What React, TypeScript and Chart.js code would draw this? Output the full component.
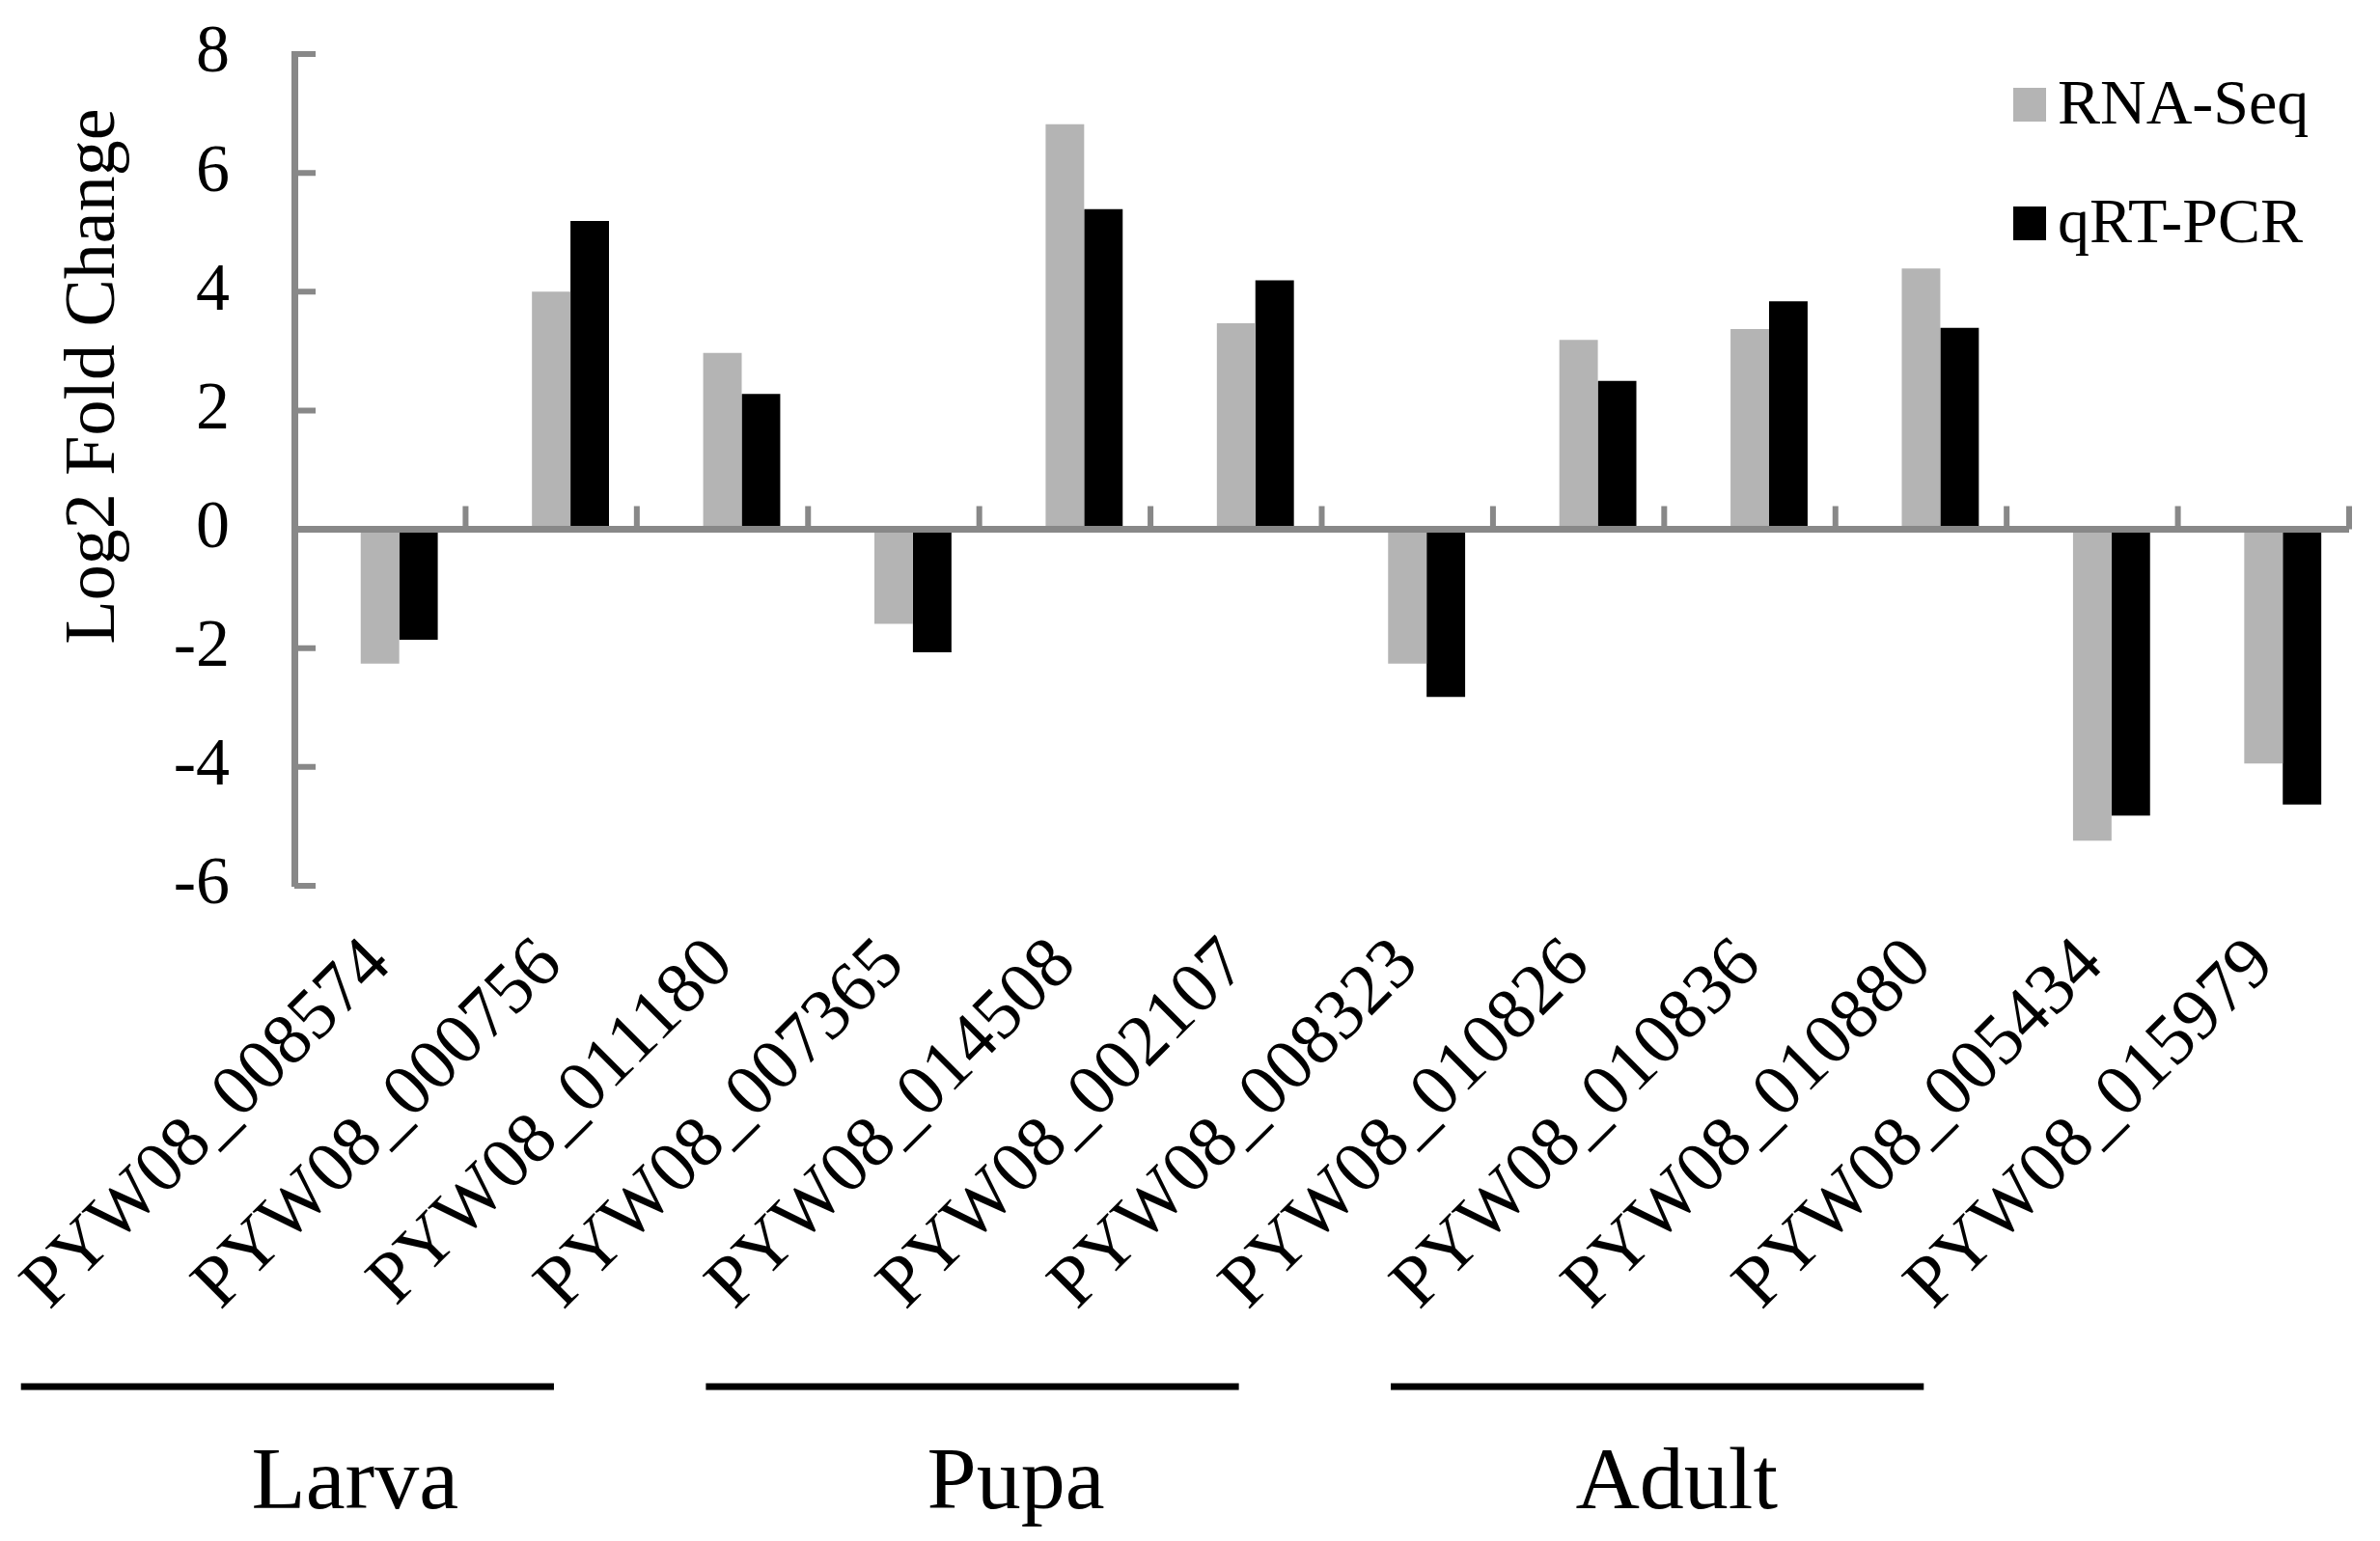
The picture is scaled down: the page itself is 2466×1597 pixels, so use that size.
import { useEffect, useRef } from 'react';
import { Chart, registerables, type Plugin } from 'chart.js';

Chart.register(...registerables);

// gene ids on the x axis
const genes = [
  'PYW08_008574', 'PYW08_000756', 'PYW08_011180', 'PYW08_007365',
  'PYW08_014508', 'PYW08_002107', 'PYW08_008323', 'PYW08_010826',
  'PYW08_010836', 'PYW08_010880', 'PYW08_005434', 'PYW08_015979',
];
const rnaSeq = [-2.26, 4.0, 2.97, -1.59, 6.82, 3.47, -2.26, 3.19, 3.37, 4.39, -5.24, -3.94];
const qrtPcr = [-1.86, 5.19, 2.28, -2.07, 5.39, 4.19, -2.82, 2.5, 3.84, 3.39, -4.82, -4.63];

// developmental stage under the labels: first and last gene index
const stages = ['Larva', 'Pupa', 'Adult'];
const stageFirst = [0, 4, 8];
const stageLast = [3, 7, 11];

const yMin = -6;
const yMax = 8;
const yStep = 2;

const FONT = "'Liberation Serif', 'Times New Roman', serif";
const AXIS = '#888888';
const GRAY = '#b4b4b4';

const overlay: Plugin<'bar'> = {
  id: 'overlay',
  afterDatasetsDraw(chart) {
    const { ctx, chartArea: a, scales } = chart;
    const x = scales.x;
    const y = scales.y;
    const y0 = y.getPixelForValue(0);
    const half = (x.getPixelForValue(1) - x.getPixelForValue(0)) / 2;

    ctx.save();
    // zero line
    ctx.strokeStyle = AXIS;
    ctx.lineWidth = 7;
    ctx.beginPath();
    ctx.moveTo(a.left, y0);
    ctx.lineTo(a.right, y0);
    ctx.stroke();

    // category tick marks point up, value ticks point inward
    ctx.lineWidth = 6;
    ctx.beginPath();
    genes.forEach((_, i) => {
      const px = x.getPixelForValue(i) + half;
      ctx.moveTo(px, y0);
      ctx.lineTo(px, y0 - 24);
    });
    y.ticks.forEach((t) => {
      const py = y.getPixelForValue(t.value);
      ctx.moveTo(a.left, py);
      ctx.lineTo(a.left + 22, py);
    });
    ctx.stroke();

    // y title
    ctx.fillStyle = '#000';
    ctx.font = `74px ${FONT}`;
    ctx.save();
    ctx.translate(118, a.top + 334);
    ctx.rotate(-Math.PI / 2);
    ctx.textAlign = 'center';
    ctx.textBaseline = 'alphabetic';
    ctx.fillText('Log2 Fold Change', 0, 0);
    ctx.restore();

    // legend
    ctx.font = `66px ${FONT}`;
    ctx.textAlign = 'left';
    ctx.textBaseline = 'alphabetic';
    let row = 0;
    chart.data.datasets.forEach((ds) => {
      if (!ds.label) return;
      const bx = a.right - 348;
      const by = a.top + 35 + row * 123;
      ctx.fillStyle = ds.backgroundColor as string;
      ctx.fillRect(bx, by, 34, 35);
      ctx.fillStyle = '#000';
      ctx.fillText(ds.label, bx + 46, by + 37);
      row++;
    });

    // stage brackets
    ctx.strokeStyle = '#000';
    ctx.lineWidth = 7;
    ctx.font = `92px ${FONT}`;
    ctx.textAlign = 'center';
    const lineY = chart.height - 160;
    stages.forEach((name, i) => {
      const x1 = x.getPixelForValue(stageFirst[i]) - 372;
      const x2 = x.getPixelForValue(stageLast[i]) - 352;
      ctx.beginPath();
      ctx.moveTo(x1, lineY);
      ctx.lineTo(x2, lineY);
      ctx.stroke();
      ctx.fillText(name, (x1 + x2) / 2 + 45 - (i - 1) * 25, lineY + 126);
    });
    ctx.restore();
  },
};

export default function App() {
  const canvasRef = useRef<HTMLCanvasElement>(null);

  useEffect(() => {
    document.body.style.margin = '0';
    if (!canvasRef.current) return;

    const chart = new Chart(canvasRef.current, {
      type: 'bar',
      data: {
        labels: genes,
        datasets: [
          // empty slot on the left so the pair sits right of centre, like the original
          { label: '', data: [], backgroundColor: 'transparent' },
          { label: 'RNA-Seq', data: rnaSeq, backgroundColor: GRAY },
          { label: 'qRT-PCR', data: qrtPcr, backgroundColor: '#000000' },
        ],
      },
      options: {
        responsive: true,
        maintainAspectRatio: false,
        animation: false,
        layout: { padding: { top: 56, right: 32, left: 0, bottom: 0 } },
        datasets: {
          bar: { categoryPercentage: 0.675, barPercentage: 1.0 },
        },
        scales: {
          x: {
            grid: { display: false, drawTicks: false },
            border: { display: false },
            ticks: {
              color: '#000',
              font: { family: FONT, size: 75 },
              minRotation: 45,
              maxRotation: 45,
              autoSkip: false,
              padding: 38,
            },
            afterFit: (s) => {
              s.height = 679;
              s.paddingLeft = 0;
              s.paddingRight = 0;
            },
          },
          y: {
            min: yMin,
            max: yMax,
            grid: { display: false, drawTicks: false },
            border: { display: true, color: AXIS, width: 7 },
            ticks: {
              stepSize: yStep,
              color: '#000',
              font: { family: FONT, size: 70 },
              padding: 67,
              callback: (v) => String(v),
            },
            afterFit: (s) => {
              s.width = 305;
              s.paddingTop = 0;
              s.paddingBottom = 0;
            },
          },
        },
        plugins: {
          legend: { display: false },
          tooltip: { enabled: false },
        },
      },
      plugins: [overlay],
    });

    return () => {
      chart.destroy();
    };
  }, []);

  return (
    <div style={{ position: 'relative', width: 2466, height: 1597, background: '#fff' }}>
      <canvas ref={canvasRef} />
    </div>
  );
}
